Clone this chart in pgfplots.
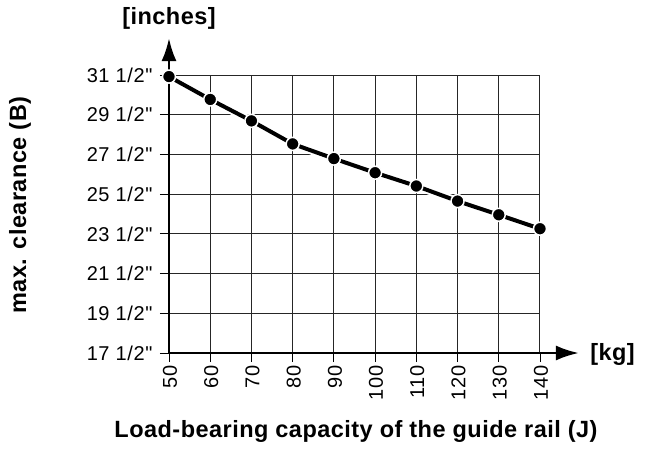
\documentclass[border=0pt]{standalone}
\usepackage{fontspec}
\setmainfont{Liberation Sans}[Ligatures=TeXOff]
\usepackage{pgfplots}
\pgfplotsset{compat=1.18}
\usetikzlibrary{arrows.meta}
\newcommand\lblfont{\fontsize{23.5}{27}\selectfont\bfseries\addfontfeature{LetterSpace=2}}
\begin{document}
\begin{tikzpicture}
\useasboundingbox (-169pt,-103pt) rectangle (482pt,353pt);
\begin{axis}[
  at={(0,0)}, anchor=south west,
  scale only axis,
  width=371pt, height=278pt,
  xmin=50, xmax=140, ymin=17.5, ymax=31.5,
  axis x line=bottom, axis y line=left,
  axis line style={line width=2.8pt},
  x axis line style={-{Latex[length=23pt,width=15pt]}, shorten >=-39pt},
  y axis line style={-{Latex[length=23pt,width=15pt]}, shorten >=-37pt},
  xtick={50,60,...,140},
  ytick={17.5,19.5,...,31.5},
  yticklabels={17 1/2",19 1/2",21 1/2",23 1/2",25 1/2",27 1/2",29 1/2",31 1/2"},
  tick align=outside,
  major tick length=9pt,
  every tick/.style={black, line width=0.9pt},
  grid=major,
  major grid style={black!85, line width=1pt},
  /pgf/number format/assume math mode=true,
  ticklabel style={font=\fontsize{20}{23}\selectfont\addfontfeature{LetterSpace=3}},
  yticklabel style={xshift=-4pt},
  xticklabel style={rotate=90, anchor=east, yshift=-1pt},
  xlabel={Load-bearing capacity of the guide rail (J)},
  ylabel={max. clearance (B)},
  label style={font=\lblfont},
  xlabel style={at={(axis description cs:0.504,-0.281)}, anchor=center},
  ylabel style={at={(axis description cs:-0.4016,0.532)}, anchor=center, rotate=0},
  clip=false,
]
\addplot[white, line width=8pt, forget plot] coordinates {
(50,31.42) (60,30.27) (70,29.19) (80,28.03) (90,27.29) (100,26.58) (110,25.91) (120,25.15) (130,24.46) (140,23.76)};
\addplot[black, line width=4pt, mark=*, mark size=6.5pt, mark options={fill=black, draw=white, line width=1.5pt}] coordinates {
(50,31.42) (60,30.27) (70,29.19) (80,28.03) (90,27.29) (100,26.58) (110,25.91) (120,25.15) (130,24.46) (140,23.76)};
\node[font=\lblfont] at (axis description cs:0,1.205) {[inches]};
\node[font=\lblfont, anchor=west, inner sep=0pt] at (axis description cs:1.135,-0.006) {[kg]};
\end{axis}
\end{tikzpicture}
\end{document}
